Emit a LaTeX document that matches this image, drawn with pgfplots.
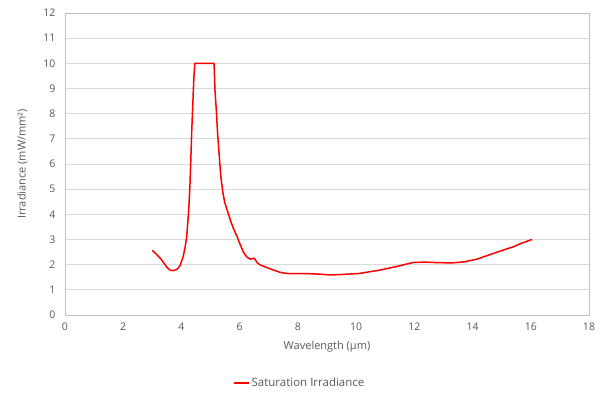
\documentclass[border=0pt]{standalone}
\usepackage{fontspec}
\setmainfont{Open Sans}
\usepackage{pgfplots}
\pgfplotsset{compat=1.18}
\definecolor{txt}{HTML}{595959}
\definecolor{grd}{HTML}{D9D9D9}
\definecolor{axl}{HTML}{BFBFBF}
\begin{document}
\begin{tikzpicture}
\begin{axis}[
  scale only axis, width=524pt, height=302pt,
  xmin=0, xmax=18, ymin=0, ymax=12,
  xtick={0,2,...,18}, ytick={0,1,...,12},
  ymajorgrids, grid style={grd, line width=0.8pt},
  axis line style={axl, line width=0.8pt},
  major tick length=0pt,
  tick label style={font=\fontsize{10.5}{12}\selectfont, text=txt},
  /pgf/number format/assume math mode=true,
  xticklabel style={yshift=-4pt},
  yticklabel style={xshift=-6pt},
  xlabel={Wavelength (µm)}, ylabel={Irradiance (mW/mm²)},
  label style={font=\fontsize{11}{13}\selectfont, text=txt},
  xlabel style={at={(axis description cs:0.5,0)}, anchor=north, yshift=-23pt},
  ylabel style={at={(axis description cs:0,0.5)}, anchor=south, xshift=0pt, yshift=34pt},
  legend style={at={(axis description cs:0.448,-0.225)}, anchor=center, draw=none, font=\fontsize{11.5}{13}\selectfont, text=txt},
  legend cell align=left,
  legend image code/.code={\draw[#1] (0pt,0pt) -- (15pt,0pt);},
]
\addplot[color=red, line width=1.5pt, line join=round] coordinates {
(3.00,2.57) (3.15,2.40) (3.30,2.22) (3.38,2.09) (3.50,1.90) (3.60,1.79) (3.72,1.76) (3.85,1.82) (3.95,1.96) (4.05,2.28) (4.12,2.65) (4.18,3.10) (4.22,3.70) (4.26,4.40) (4.29,5.10) (4.32,6.10) (4.35,7.20) (4.38,8.10) (4.41,8.97) (4.43,9.50) (4.46,10.0)
(5.12,10.0) (5.15,8.97) (5.20,8.10) (5.24,7.25) (5.30,6.30) (5.35,5.53) (5.42,4.90) (5.48,4.50) (5.56,4.21) (5.70,3.70) (5.80,3.40) (5.90,3.15) (6.00,2.85) (6.13,2.49) (6.25,2.30) (6.36,2.22) (6.45,2.24) (6.50,2.26) (6.60,2.08) (6.70,1.99) (6.90,1.90) (7.15,1.79) (7.40,1.69) (7.62,1.65) (8.00,1.64) (8.42,1.64) (8.80,1.62) (9.10,1.59) (9.50,1.61) (10.10,1.65) (10.80,1.78) (11.40,1.93) (11.97,2.09) (12.40,2.10) (12.80,2.08) (13.30,2.07) (13.70,2.11) (14.15,2.22) (14.60,2.40) (15.00,2.56) (15.40,2.71) (15.70,2.86) (16.04,3.00)
};
\addlegendentry{Saturation Irradiance}
\end{axis}
\pgfresetboundingbox
\path[use as bounding box] (-65pt,-83pt) rectangle (535pt,315pt);
\end{tikzpicture}
\end{document}
